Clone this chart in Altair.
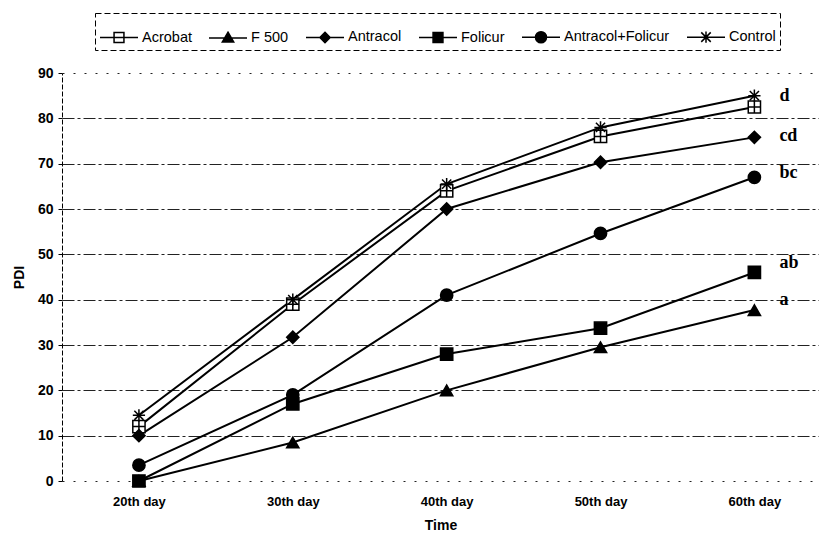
import json
import altair as alt
import pandas as pd

days = ["20th day", "30th day", "40th day", "50th day", "60th day"]
fungicides = ["Acrobat", "F 500", "Antracol", "Folicur", "Antracol+Folicur", "Control"]
acrobat = [12, 39, 64, 76, 82.5]
f500 = [0, 8.5, 20, 29.5, 37.7]
antracol = [10, 31.7, 60, 70.3, 75.8]
folicur = [0, 17, 28, 33.7, 46]
antracol_folicur = [3.5, 19, 41, 54.6, 67]
control = [14.5, 40, 65.5, 78, 85]
letters = ["d", "cd", "bc", "ab", "a"]
letter_y = [85, 76, 68, 48, 40]

series = [acrobat, f500, antracol, folicur, antracol_folicur, control]
rows = []
for name, vals in zip(fungicides, series):
    for i, v in enumerate(vals):
        rows.append({"Fungicide": name, "Day": i, "PDI": v})
df = pd.DataFrame(rows)
letters_df = pd.DataFrame({"Letter": letters, "Day": [len(days) - 1] * len(letters), "PDI": letter_y})

# marker shapes on the plot
plot_shapes = [
    "M-1,-1H1V1H-1Z M0,-1V1 M-1,0H1",
    "triangle-up",
    "diamond",
    "square",
    "circle",
    "M-1,0H1M0,-1V1M-0.75,-0.75L0.75,0.75M-0.75,0.75L0.75,-0.75",
]
plot_fill = ["white", "black", "black", "black", "black", "white"]
plot_size = [150, 150, 170, 170, 230, 190]

# legend symbols: line with marker
legend_shapes = [
    "M-1,0H1M-0.26,-0.26H0.26V0.26H-0.26Z",
    "M-1,0H1M0,-0.3L0.3,0.22H-0.3Z",
    "M-1,0H1M0,-0.27L0.27,0L0,0.27L-0.27,0Z",
    "M-1,0H1M-0.26,-0.26H0.26V0.26H-0.26Z",
    "M-1,0H1M0.29,0A0.29,0.29,0,1,1,-0.29,0A0.29,0.29,0,1,1,0.29,0Z",
    "M-1,0H1M-0.25,-0.25L0.25,0.25M-0.25,0.25L0.25,-0.25M0,-0.3V0.3",
]

x_enc = alt.X(
    "Day:Q",
    scale=alt.Scale(domain=[-0.5, 4.42], nice=False, zero=False),
    axis=alt.Axis(
        values=list(range(len(days))),
        labelExpr=json.dumps(days) + "[datum.value]",
        grid=False,
        ticks=False,
        domainDash=[2, 9],
        domainColor="#222",
        labelFont="Liberation Sans",
        labelFontWeight="bold",
        labelFontSize=13,
        labelColor="black",
        labelPadding=14,
        title="Time",
        titleFont="Liberation Sans",
        titleFontWeight="bold",
        titleFontSize=14,
        titleColor="black",
        titlePadding=10,
    ),
)
y_enc = alt.Y(
    "PDI:Q",
    scale=alt.Scale(domain=[0, 90], nice=False),
    axis=alt.Axis(
        values=list(range(0, 91, 10)),
        grid=True,
        gridColor="#222",
        gridWidth=1,
        gridDash={"condition": {"test": "datum.value === 90", "value": [2, 9]}, "value": [12, 3, 3, 3]},
        gridOpacity={"condition": {"test": "datum.value === 0", "value": 0}, "value": 1},
        tickSize=4,
        tickColor="black",
        domainDash=[5, 2],
        domainColor="black",
        labelFont="Liberation Sans",
        labelFontWeight="bold",
        labelFontSize=14,
        labelColor="black",
        labelPadding=5,
        title="PDI",
        titleFont="Liberation Sans",
        titleFontWeight="bold",
        titleFontSize=14,
        titleColor="black",
        titlePadding=11,
    ),
)

base = alt.Chart(df)

lines = base.mark_line(color="black", strokeWidth=2).encode(
    x=x_enc, y=y_enc, detail="Fungicide:N"
)

points = base.mark_point(stroke="black", strokeWidth=1.5, opacity=1).encode(
    x=x_enc,
    y=y_enc,
    shape=alt.Shape("Fungicide:N", scale=alt.Scale(domain=fungicides, range=plot_shapes), legend=None),
    fill=alt.Fill("Fungicide:N", scale=alt.Scale(domain=fungicides, range=plot_fill), legend=None),
    size=alt.Size("Fungicide:N", scale=alt.Scale(domain=fungicides, range=plot_size), legend=None),
)

legend_layer = base.transform_filter("false").mark_point(strokeWidth=1.5, opacity=1).encode(
    x=x_enc,
    y=y_enc,
    shape=alt.Shape(
        "Fungicide:N",
        scale=alt.Scale(domain=fungicides, range=legend_shapes),
        legend=alt.Legend(
            title=None,
            orient="none",
            legendX=33,
            legendY=-60,
            direction="horizontal",
            columns=6,
            columnPadding=14,
            symbolSize=1444,
            symbolStrokeWidth=1.5,
            symbolStrokeColor="black",
            symbolOpacity=1,
            labelFont="Liberation Sans",
            labelFontSize=14.5,
            labelColor="black",
            labelOffset=3,
            padding=4,
        ),
    ),
    fill=alt.Fill("Fungicide:N", scale=alt.Scale(domain=fungicides, range=plot_fill)),
    stroke=alt.Stroke("Fungicide:N", scale=alt.Scale(domain=fungicides, range=["black"] * len(fungicides))),
)

text = alt.Chart(letters_df).mark_text(
    align="left", baseline="middle", dx=25, font="Liberation Serif", fontSize=18, fontWeight="bold", color="black"
).encode(x=x_enc, y=y_enc, text="Letter:N")

chart = (
    alt.layer(lines, points, legend_layer, text)
    .resolve_scale(shape="independent", fill="independent", size="independent", stroke="independent")
    .properties(
        width=757,
        height=408,
        padding={"left": 54, "top": 65, "right": 0, "bottom": 56},
        autosize=alt.AutoSizeParams(type="none"),
        background="white",
    )
    .configure_view(stroke=None)
    .configure_legend(strokeColor="black", strokeDash=[6, 3], strokeWidth=1)
)

chart.save("out.html", embed_options={"renderer": "svg", "actions": False})
